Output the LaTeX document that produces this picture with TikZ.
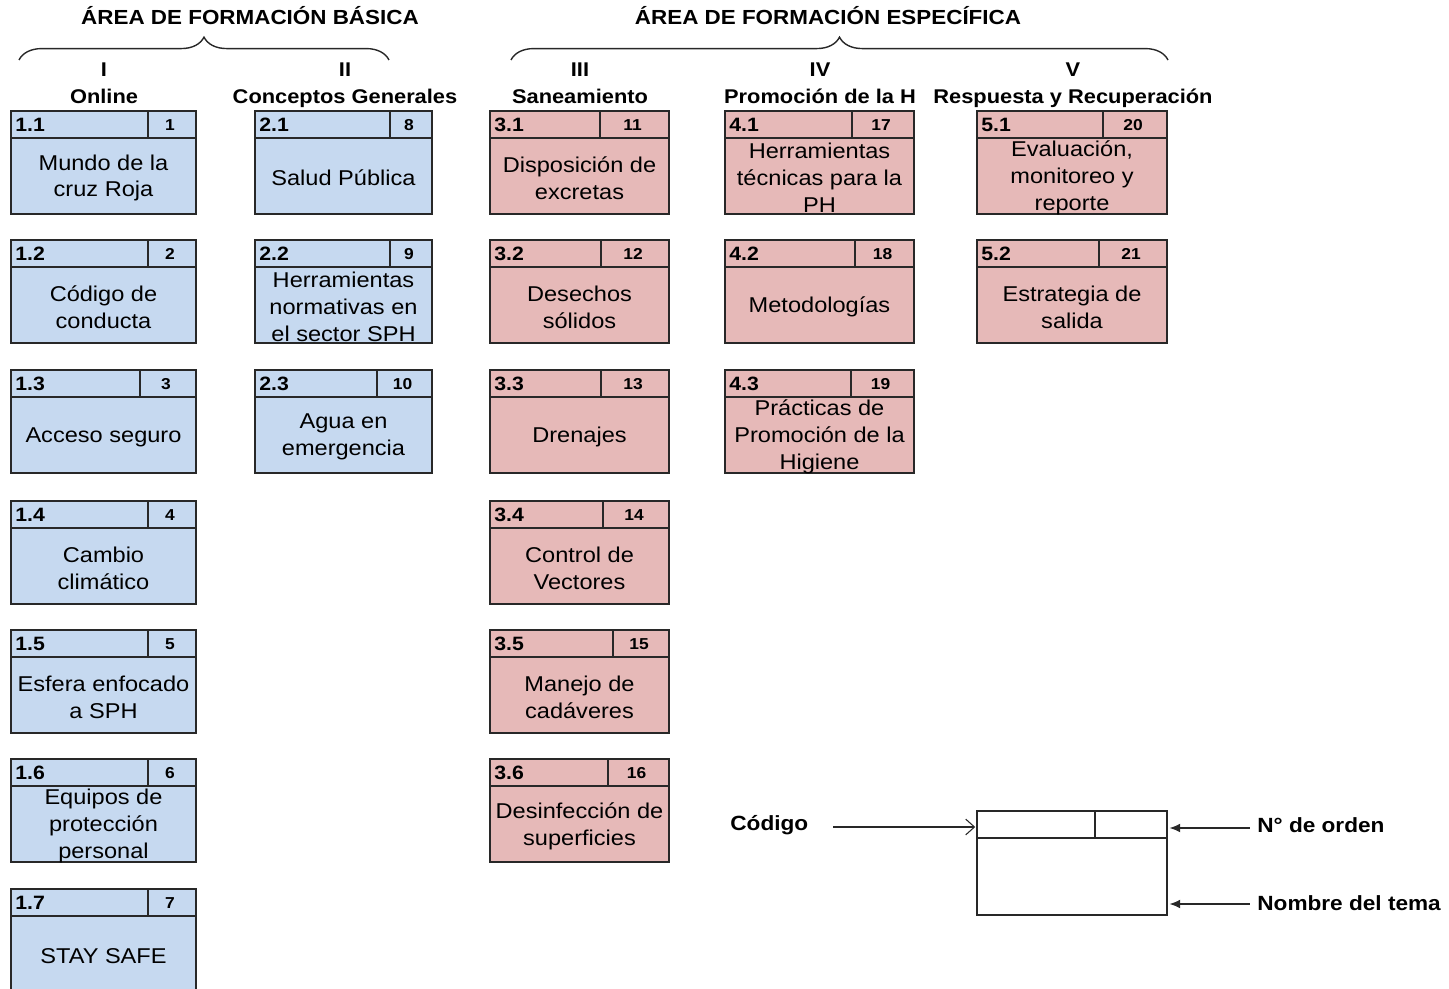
\documentclass[tikz,border=0pt]{standalone}
\usepackage{fontspec}
\setmainfont{Liberation Sans}[FakeStretch=1.1]
\usepackage{tikz}
\usetikzlibrary{positioning,calc,arrows.meta,decorations.pathreplacing}
\definecolor{basica}{RGB}{198,217,240}
\definecolor{especifica}{RGB}{230,185,184}
\definecolor{borde}{RGB}{40,40,40}

\tikzset{
  temabox/.style={draw=borde, line width=0.8pt, inner sep=0pt, outer sep=0pt, minimum height=103*0.02cm},
  temafill/.style={fill=basica},
  codigo/.style={font=\fontsize{11}{13}\selectfont\bfseries, anchor=west, inner sep=0pt},
  orden/.style={font=\fontsize{9}{11}\selectfont\bfseries, inner sep=0pt},
  tematxt/.style={font=\fontsize{12.2}{15.3}\selectfont, align=center, inner sep=0pt},
  titulo/.style={font=\fontsize{11.6}{14}\selectfont\bfseries, inner sep=0pt},
  colhead/.style={font=\fontsize{11.3}{13}\selectfont\bfseries, inner sep=0pt, anchor=base},
  leyenda/.style={font=\fontsize{11.7}{13}\selectfont\bfseries, inner sep=0pt},
  llave/.style={decorate, decoration={brace, amplitude=13pt}, line width=0.8pt, draw=borde},
  linea/.style={draw=borde, line width=0.8pt},
}

% box of one topic: left, top, width, divider, code, number, text
\newcommand{\tema}[7]{%
  \node[temabox, temafill, minimum width=#3*0.02cm, anchor=north west] (t#6) at (#1,#2) {};
  \draw[linea] ($(t#6.north west)+(0,27)$) -- ($(t#6.north east)+(0,27)$);
  \draw[linea] (#4,#2) -- ({#4},{#2+27});
  \node[codigo] (c#6) at ({#1+4},{#2+14}) {#5};
  \node[orden] (n#6) at ({(#4+#1+#3)/2-2},{#2+14}) {#6};
  \node[tematxt] (x#6) at ({#1+#3/2},{#2+67}) {#7};
}

\begin{document}
\begin{tikzpicture}[x=0.02cm, y=-0.02cm]
    \useasboundingbox (0,0) rectangle (1449,989);

    % Area titles and braces
    \node[titulo] (tbasica) at (250,16) {ÁREA DE FORMACIÓN BÁSICA};
    \node[titulo] (tespecifica) at (828,16) {ÁREA DE FORMACIÓN ESPECÍFICA};
    \draw[llave] (19,60) -- (389,60);
    \draw[llave] (511,60) -- (1168,60);

    % Column headers
    \foreach \cx/\rom/\nom in {104/I/Online, 345/II/Conceptos Generales,
        580/III/Saneamiento, 820/IV/Promoción de la H, 1073/V/Respuesta y Recuperación} {
      \node[colhead] (rom\rom) at (\cx,77) {\rom};
      \node[colhead] (nom\rom) at (\cx,104) {\nom};
    }

    % Column I
    \foreach \yy/\xd/\cod/\num/\txt in {
        111/148/1.1/1/{Mundo de la\\cruz Roja},
        240/148/1.2/2/{Código de\\conducta},
        370/140/1.3/3/{Acceso seguro},
        501/148/1.4/4/{Cambio\\climático},
        630/148/1.5/5/{Esfera enfocado\\a SPH},
        759/148/1.6/6/{Equipos de\\protección\\personal},
        889/148/1.7/7/{STAY SAFE}} {
      \tema{11}{\yy}{185}{\xd}{\cod}{\num}{\txt}
    }

    % Column II
    \foreach \yy/\xd/\cod/\num/\txt in {
        111/390/2.1/8/{Salud Pública},
        240/390/2.2/9/{Herramientas\\normativas en\\el sector SPH},
        370/377/2.3/10/{Agua en\\emergencia}} {
      \tema{255}{\yy}{177}{\xd}{\cod}{\num}{\txt}
    }

    \begin{scope}[temafill/.style={fill=especifica}]
    % Column III
    \foreach \yy/\xd/\cod/\num/\txt in {
        111/600/3.1/11/{Disposición de\\excretas},
        240/601/3.2/12/{Desechos\\sólidos},
        370/601/3.3/13/{Drenajes},
        501/603/3.4/14/{Control de\\Vectores},
        630/613/3.5/15/{Manejo de\\cadáveres},
        759/608/3.6/16/{Desinfección de\\superficies}} {
      \tema{490}{\yy}{179}{\xd}{\cod}{\num}{\txt}
    }

    % Column IV
    \foreach \yy/\xd/\cod/\num/\txt in {
        111/852/4.1/17/{Herramientas\\técnicas para la\\PH},
        240/855/4.2/18/{Metodologías},
        370/851/4.3/19/{Prácticas de\\Promoción de la\\Higiene}} {
      \tema{725}{\yy}{189}{\xd}{\cod}{\num}{\txt}
    }

    % Column V
    \foreach \yy/\xd/\cod/\num/\txt in {
        111/1103/5.1/20/{Evaluación,\\monitoreo y\\reporte},
        240/1099/5.2/21/{Estrategia de\\salida}} {
      \tema{977}{\yy}{190}{\xd}{\cod}{\num}{\txt}
    }
    \end{scope}

    % Legend
    \node[temabox, minimum width=190*0.02cm, minimum height=104*0.02cm, anchor=north west] (ley) at (977,811) {};
    \draw[linea] ($(ley.north west)+(0,27)$) -- ($(ley.north east)+(0,27)$);
    \draw[linea] (1095,811) -- (1095,838);
    \node[leyenda, anchor=west] (lcodigo) at (730,825) {Código};
    \node[leyenda, anchor=west] (lorden) at (1257,825) {N° de orden};
    \node[leyenda, anchor=west] (lnombre) at (1257,903) {Nombre del tema};
    \draw[borde, line width=0.6pt, -{Straight Barb[length=5pt,width=9pt]}, shorten <=14pt, shorten >=1pt]
        ($(lcodigo.east)+(0,2)$) -- ($(lcodigo.east -| ley.west)+(0,2)$);
    \draw[borde, line width=0.6pt, -{Latex[length=6pt,width=5pt]}, shorten <=4pt, shorten >=1.5pt]
        ($(lorden.west)+(0,3)$) -- ($(lorden.west -| ley.east)+(0,3)$);
    \draw[borde, line width=0.6pt, -{Latex[length=6pt,width=5pt]}, shorten <=4pt, shorten >=1.5pt]
        ($(lnombre.west)+(0,1)$) -- ($(lnombre.west -| ley.east)+(0,1)$);
\end{tikzpicture}
\end{document}
